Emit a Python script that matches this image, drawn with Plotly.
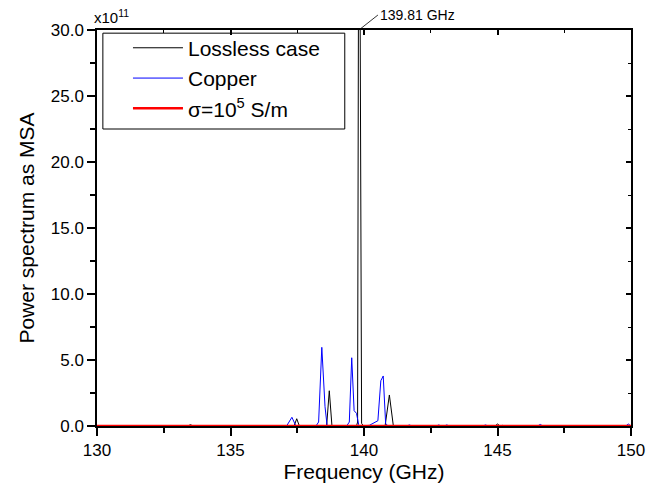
import plotly.graph_objects as go

# ---- data (values in units of 1e11) ----
lossless_freq = [130.0, 133.40, 133.50, 133.60, 137.38, 137.48, 137.58,
                 138.60, 138.70, 138.80, 139.72, 139.76, 139.80, 139.82, 139.84, 139.91, 139.98,
                 140.79, 140.95, 141.10, 144.90, 145.00, 145.10, 145.20, 145.30, 150.0]
lossless_val = [0.0, 0.0, 0.10, 0.0, 0.0, 0.55, 0.0,
                0.0, 2.67, 0.0, 0.0, 0.30, 40.0, 600.0, 40.0, 0.20, 0.0,
                0.0, 2.35, 0.0, 0.0, 0.15, 0.0, 0.05, 0.0, 0.0]

copper_freq = [130.0, 137.10, 137.30, 137.45, 138.20, 138.30, 138.42, 138.54, 138.62,
               139.35, 139.45, 139.54, 139.63, 139.72, 139.80, 139.85,
               140.20, 140.41, 140.52, 140.63, 140.72, 140.81, 140.90,
               141.60, 141.70, 141.80, 142.70, 142.80, 142.90, 143.00, 143.10, 143.20,
               144.45, 144.55, 144.65, 146.50, 146.60, 146.70, 149.80, 149.90, 150.0]
copper_val = [0.0, 0.0, 0.66, 0.0, 0.0, 0.30, 5.96, 1.46, 0.0,
              0.0, 0.30, 5.17, 1.16, 0.96, 0.10, 0.0,
              0.05, 0.30, 0.40, 3.43, 3.79, 0.20, 0.0,
              0.0, 0.08, 0.0, 0.0, 0.08, 0.0, 0.0, 0.08, 0.0,
              0.0, 0.08, 0.0, 0.0, 0.12, 0.0, 0.0, 0.15, 0.0]

sigma_freq = [130.0, 135.0, 140.0, 145.0, 150.0]
sigma_val = [0.0, 0.0, 0.0, 0.0, 0.0]

peak_freq = 139.81
y_ticks = [0, 5, 10, 15, 20, 25, 30]
x_ticks = [130, 135, 140, 145, 150]

FONT = "Liberation Sans, Arial, sans-serif"

fig = go.Figure()
fig.add_trace(go.Scatter(x=lossless_freq, y=lossless_val, mode="lines",
                         name="Lossless case", line=dict(color="black", width=1)))
fig.add_trace(go.Scatter(x=copper_freq, y=copper_val, mode="lines",
                         name="Copper", line=dict(color="#0000ff", width=1)))
fig.add_trace(go.Scatter(x=sigma_freq, y=sigma_val, mode="lines",
                         name="σ=10<sup>5</sup> S/m", line=dict(color="#ff0000", width=2.5)))
# invisible trace to activate mirrored axes
fig.add_trace(go.Scatter(x=[130, 150], y=[0, 0], xaxis="x2", yaxis="y2",
                         mode="lines", line=dict(width=0), showlegend=False,
                         hoverinfo="skip"))

axis_common = dict(showgrid=False, zeroline=False, linecolor="black", linewidth=1.5,
                   tickcolor="black", tickwidth=1.5, showline=True, automargin=False)

fig.update_layout(
    width=670, height=498,
    margin=dict(l=89, r=47, t=22, b=80),
    paper_bgcolor="white", plot_bgcolor="white",
    font=dict(family=FONT, color="black"),
    xaxis=dict(range=[130, 150], tickvals=x_ticks, ticks="outside", ticklen=8,
               minor=dict(dtick=2.5, ticks="outside", ticklen=5, tickwidth=1.5, tickcolor="black"),
               tickfont=dict(size=17), title=dict(text="Frequency (GHz)", font=dict(size=21), standoff=2),
               **axis_common),
    yaxis=dict(range=[0, 30], tickvals=y_ticks, tickformat=".1f", ticks="outside", ticklen=8,
               minor=dict(dtick=2.5, ticks="outside", ticklen=5, tickwidth=1.5, tickcolor="black"),
               tickfont=dict(size=17), title=dict(text="Power spectrum as MSA", font=dict(size=21), standoff=10),
               **axis_common),
    xaxis2=dict(range=[130, 150], overlaying="x", side="top", tickvals=x_ticks,
                ticks="inside", ticklen=5, showticklabels=False,
                minor=dict(dtick=2.5, ticks="inside", ticklen=3, tickwidth=1, tickcolor="black"),
                **axis_common),
    yaxis2=dict(range=[0, 30], overlaying="y", side="right", tickvals=y_ticks,
                ticks="inside", ticklen=5, showticklabels=False,
                minor=dict(dtick=2.5, ticks="inside", ticklen=3, tickwidth=1, tickcolor="black"),
                **axis_common),
    legend=dict(x=0.058, y=1.006, xanchor="left", yanchor="top",
                borderwidth=0, bgcolor="rgba(0,0,0,0)",
                font=dict(size=21), tracegroupgap=0, itemwidth=50),
    showlegend=True,
)

# legend frame
fig.add_shape(type="rect", xref="paper", yref="paper",
              x0=0.011, x1=0.464, y0=0.75, y1=0.992,
              line=dict(color="black", width=1), fillcolor="rgba(0,0,0,0)", layer="above")

fig.add_annotation(x=peak_freq, y=30, xref="x", yref="y",
                   text=f"{peak_freq:.2f} GHz", showarrow=True, arrowhead=0,
                   arrowwidth=0.8, arrowcolor="black", ax=19, ay=-15,
                   xanchor="left", yanchor="middle", font=dict(size=14))
fig.add_annotation(x=0, y=1, xref="paper", yref="paper", xshift=-5, yshift=2,
                   text="x10<sup>11</sup>", showarrow=False,
                   xanchor="left", yanchor="bottom", font=dict(size=15))

fig.write_html("out.html")
